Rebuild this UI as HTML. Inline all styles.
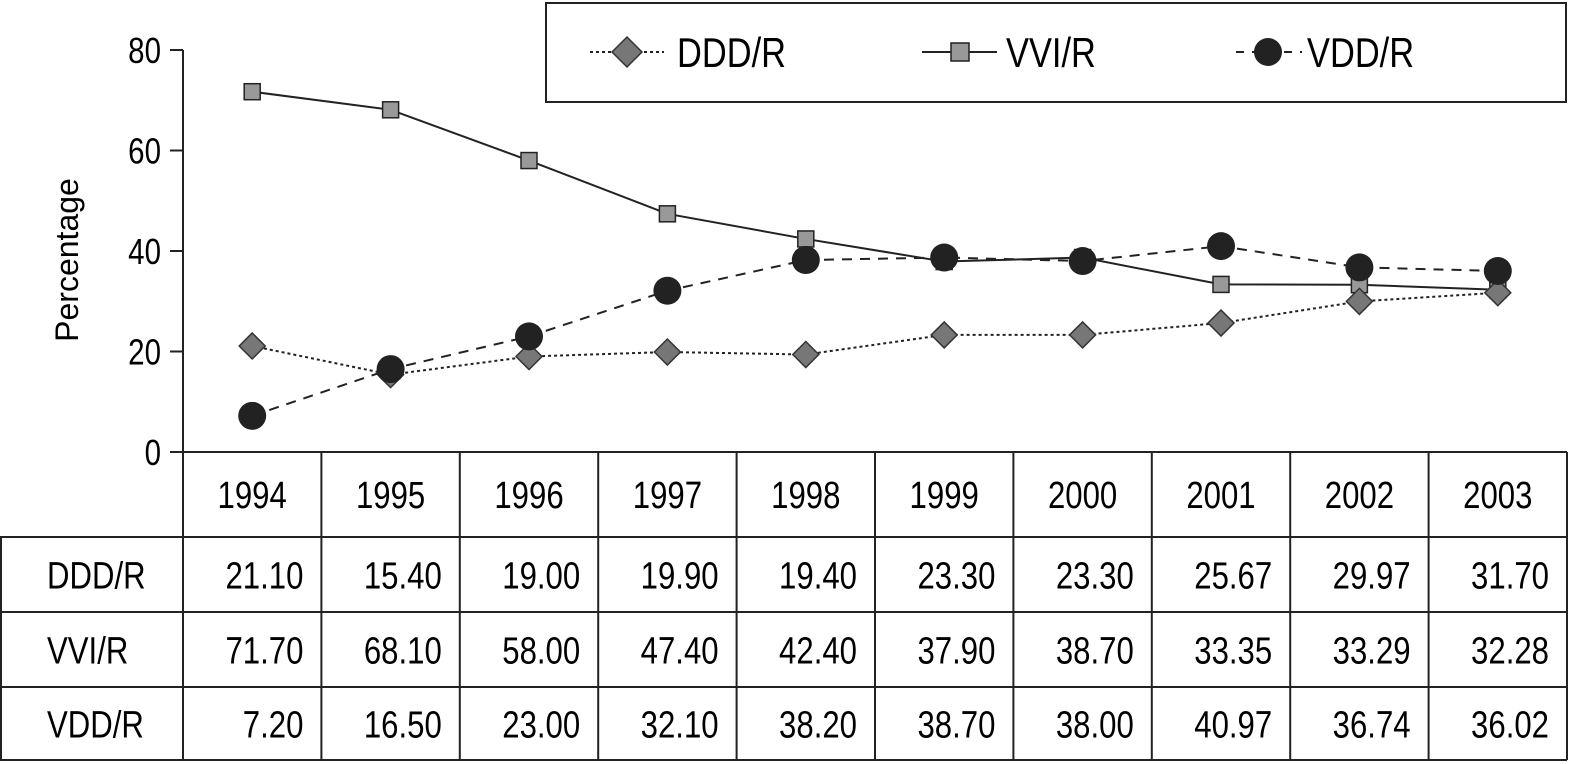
<!DOCTYPE html>
<html><head><meta charset="utf-8"><style>
html,body{margin:0;padding:0;background:#fff;}
svg{display:block;font-family:"Liberation Sans Narrow","Liberation Sans",sans-serif;}
</style></head><body>
<svg id="c" width="1575" height="764" viewBox="0 0 1575 764" xmlns="http://www.w3.org/2000/svg">
<g id="axes"></g>
<g id="series"></g>
<g id="table"></g>
<g id="legend">
<rect x="546" y="3" width="1020" height="99" fill="#fff" stroke="#222" stroke-width="2"/>
<g>
<line x1="590" y1="52" x2="664" y2="52" stroke="#222" stroke-width="2" stroke-dasharray="3,3"/>
<polygon points="627,37 642,52 627,67 612,52" fill="#777" stroke="#333" stroke-width="1.5"/>
<text x="677" y="67" font-size="42">DDD/R</text></g>
<g>
<line x1="922" y1="52" x2="997" y2="52" stroke="#222" stroke-width="2"/>
<rect x="951" y="43" width="18" height="18" fill="#999" stroke="#222" stroke-width="1.5"/>
<text x="1006" y="67" font-size="42">VVI/R</text></g>
<g>
<line x1="1236" y1="52" x2="1302" y2="52" stroke="#222" stroke-width="2" stroke-dasharray="8,8"/>
<circle cx="1268" cy="52" r="14" fill="#222"/>
<text x="1307" y="67" font-size="42">VDD/R</text></g>
</g>
</svg>
<script>
const years=["1994","1995","1996","1997","1998","1999","2000","2001","2002","2003"];
const ddd=[21.10,15.40,19.00,19.90,19.40,23.30,23.30,25.67,29.97,31.70];
const vvi=[71.70,68.10,58.00,47.40,42.40,37.90,38.70,33.35,33.29,32.28];
const vdd=[7.20,16.50,23.00,32.10,38.20,38.70,38.00,40.97,36.74,36.02];
const ddd_lbl=["21.10","15.40","19.00","19.90","19.40","23.30","23.30","25.67","29.97","31.70"];
const vvi_lbl=["71.70","68.10","58.00","47.40","42.40","37.90","38.70","33.35","33.29","32.28"];
const vdd_lbl=["7.20","16.50","23.00","32.10","38.20","38.70","38.00","40.97","36.74","36.02"];
const yTicks=[0,20,40,60,80];

const NS="http://www.w3.org/2000/svg";
const X0=183,X1=1567,Y0=452,PPU=5.025;
const CW=(X1-X0)/years.length;
const x=i=>X0+CW*(i+0.5);
const y=v=>Y0-v*PPU;
function mk(p,tag,at){const e=document.createElementNS(NS,tag);for(const k in at)e.setAttribute(k,at[k]);p.appendChild(e);return e;}
const axes=document.getElementById('axes'),ser=document.getElementById('series'),tb=document.getElementById('table');

let ax=mk(axes,'line',{x1:X0,y1:Y0,x2:X0,y2:y(80),stroke:'#222','stroke-width':2});


yTicks.forEach(t=>{
 let l=mk(axes,'line',{x1:X0-13,y1:y(t),x2:X0,y2:y(t),stroke:'#222','stroke-width':2});
 
 
 let tx=mk(axes,'text',{x:X0-22,y:y(t)+13,'font-size':36,'text-anchor':'end'});
 tx.textContent=t;
 
 
});
let yt=mk(axes,'text',{x:78,y:260,'font-size':32,'text-anchor':'middle',transform:'rotate(-90 78 260)'});
yt.textContent='Percentage';



function line(vals,dash,name){
 let p=mk(ser,'polyline',{points:vals.map((v,i)=>x(i)+','+y(v)).join(' '),fill:'none',stroke:'#222','stroke-width':2,'stroke-dasharray':dash});
 
 
}
line(ddd,'3,3','ddd-line');line(vvi,'none','vvi-line');line(vdd,'10,8','vdd-line');
vvi.forEach((v,i)=>{let r=mk(ser,'rect',{x:x(i)-8,y:y(v)-8,width:16,height:16,fill:'#999',stroke:'#222','stroke-width':1.5});
 
 });
ddd.forEach((v,i)=>{let X=x(i),Y=y(v);let p=mk(ser,'polygon',{points:`${X},${Y-13} ${X+13},${Y} ${X},${Y+13} ${X-13},${Y}`,fill:'#777',stroke:'#333','stroke-width':1.5});
 
 });
vdd.forEach((v,i)=>{let c=mk(ser,'circle',{cx:x(i),cy:y(v),r:14,fill:'#222'});
 
 });

const rowsY=[452,537,612,687,760];
const st={stroke:'#222','stroke-width':2};
mk(tb,'line',Object.assign({x1:X0,y1:452,x2:X1,y2:452},st));
mk(tb,'line',Object.assign({x1:0,y1:537,x2:X1,y2:537},st));
mk(tb,'line',Object.assign({x1:0,y1:612,x2:X1,y2:612},st));
mk(tb,'line',Object.assign({x1:0,y1:687,x2:X1,y2:687},st));
mk(tb,'line',Object.assign({x1:0,y1:760,x2:X1,y2:760},st));
mk(tb,'line',Object.assign({x1:1,y1:537,x2:1,y2:760},st));
for(let i=0;i<=years.length;i++){mk(tb,'line',Object.assign({x1:X0+CW*i,y1:452,x2:X0+CW*i,y2:760},st));}
years.forEach((yr,i)=>{let t=mk(tb,'text',{x:x(i),y:508,'font-size':38,'text-anchor':'middle'});t.textContent=yr;
 
 });
const rows=[["DDD/R",ddd_lbl],["VVI/R",vvi_lbl],["VDD/R",vdd_lbl]];
rows.forEach((r,k)=>{const cy=(rowsY[k+1]+rowsY[k+2])/2+14;
 let h=mk(tb,'text',{x:47,y:cy,'font-size':38});h.textContent=r[0];
 
 
 r[1].forEach((s,i)=>{let t=mk(tb,'text',{x:X0+CW*(i+1)-18,y:cy,'font-size':38,'text-anchor':'end'});t.textContent=s;
  
  });
});
// condense all horizontal text to mimic a narrow typeface
const S=0.82;
document.querySelectorAll('text').forEach(t=>{
 if(t.getAttribute('transform'))return;
 const tx=parseFloat(t.getAttribute('x'))*(1-S);
 t.setAttribute('transform',`matrix(${S},0,0,1,${tx},0)`);
});
</script>
</body></html>
